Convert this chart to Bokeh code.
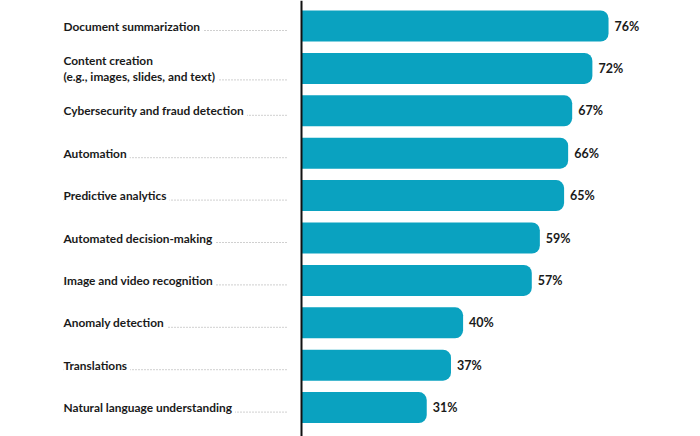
import numpy as np
from bokeh.plotting import figure
from bokeh.models import Range1d, Span, ColumnDataSource
from bokeh.core.properties import value
from bokeh.embed import file_html
from bokeh.resources import INLINE

categories = [
    "Document summarization",
    "Content creation\n(e.g., images, slides, and text)",
    "Cybersecurity and fraud detection",
    "Automation",
    "Predictive analytics",
    "Automated decision-making",
    "Image and video recognition",
    "Anomaly detection",
    "Translations",
    "Natural language understanding",
]
values = [76, 72, 67, 66, 65, 59, 57, 40, 37, 31]
value_labels = [f"{v}%" for v in values]

W, H = 700, 436
PX_PER_UNIT = 4.04
ZERO_PX = 301
x_start = -ZERO_PX / PX_PER_UNIT
x_end = (W - ZERO_PX) / PX_PER_UNIT

ROW_PX = 42.4
FIRST_PX = 25.5
y_top = -FIRST_PX / ROW_PX
y_bottom = (H - FIRST_PX) / ROW_PX

idx = np.arange(len(categories))
label_x = (63 - ZERO_PX) / PX_PER_UNIT
leader_end = (288 - ZERO_PX) / PX_PER_UNIT
n_lines = [c.count("\n") + 1 for c in categories]
leader_y = [i + (4.5 + (nl - 1) * 7) / ROW_PX for i, nl in zip(idx, n_lines)]
text_y = list(idx)

src = ColumnDataSource(dict(
    y=idx, v=values, vl=value_labels, cat=categories,
    lx=[label_x] * len(idx), le=[leader_end] * len(idx),
    ly=leader_y, ty=text_y,
    vx=[v + 6 / PX_PER_UNIT for v in values],
))

p = figure(width=W, height=H, output_backend="svg", toolbar_location=None,
           x_range=Range1d(x_start, x_end), y_range=Range1d(y_bottom, y_top),
           min_border=0, outline_line_color=None)
p.axis.visible = False
p.grid.visible = False
p.background_fill_color = "white"
p.border_fill_color = "white"

# dotted leaders
p.segment(x0="lx", y0="ly", x1="le", y1="ly", source=src,
          line_color="#a0a0a0", line_width=1, line_dash="1 2")

# category labels with white background hiding leader under text
p.text(x="lx", y="ty", text="cat", source=src,
       text_font=value("Lato"), text_font_style="bold", text_font_size="11.9px",
       text_color="#1a1a1a", text_align="left", text_baseline="middle",
       text_line_height=1.12,
       background_fill_color="white", padding=[0, 3, 0, 0])

# bars
p.hbar(y="y", left=0, right="v", height=31 / ROW_PX, source=src,
       fill_color="#0aa2c0", line_color=None,
       border_radius=(0, 8, 8, 0))

# value labels
p.text(x="vx", y="y", text="vl", source=src,
       text_font=value("Lato"), text_font_style="bold", text_font_size="12.5px",
       text_color="#1a1a1a", text_align="left", text_baseline="middle")

# axis line
p.add_layout(Span(location=0, dimension="height", line_color="#111111", line_width=2))

open("out.html", "w").write(file_html(p, INLINE))
